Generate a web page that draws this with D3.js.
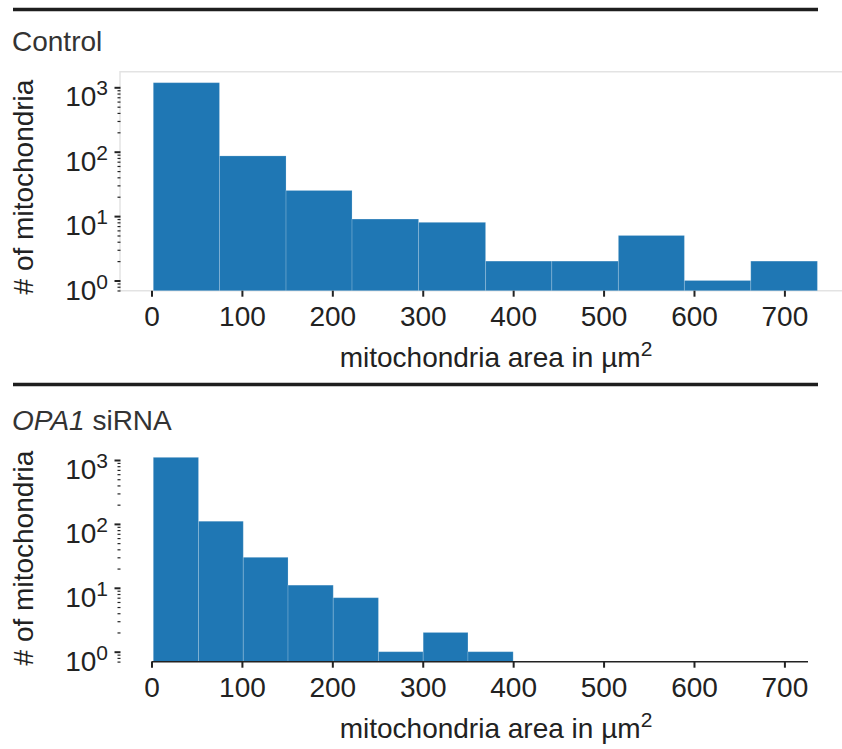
<!DOCTYPE html>
<html>
<head>
<meta charset="utf-8">
<script src="https://cdn.jsdelivr.net/npm/d3@7"></script>
<style>
  body { margin: 0; background: #fff; }
  svg { font-family: "Liberation Sans", Arial, sans-serif; }
  .domain { display: none; }
</style>
</head>
<body>
<div id="chart"></div>
<script>
// histogram bin edges (µm²) and counts
var ctrlEdges = [2, 75.2, 148.8, 221.8, 295.4, 369.5, 442.7, 516.4, 589.4, 662.8, 736.5];
var ctrlCounts = [1180, 86, 25, 9, 8, 2, 2, 5, 1, 2];

var opaEdges = [2, 52, 101.5, 151, 201, 251, 300.5, 350, 400];
var opaCounts = [1100, 110, 30, 11, 7, 1, 2, 1];

var xTicks = [0, 100, 200, 300, 400, 500, 600, 700];
var yMajor = [1, 10, 100, 1000];
var yExp = ["0", "1", "2", "3"];

var svgWidth = 842;
var svgHeight = 749;
var barColor = "#1f77b4";
var ink = "#222";
var fontSize = 28;

var svg = d3.select("#chart")
    .append("svg")
    .attr("width", svgWidth)
    .attr("height", svgHeight);

// shared x scale (same for both panels)
var xScale = d3.scaleLinear().domain([0, 700]).range([151.5, 784.4]);

// minor ticks for log axis
function minorTicks(lo, hi) {
  var out = [];
  for (var e = -1; e < 4; e++) {
    for (var k = 2; k <= 9; k++) {
      var v = k * Math.pow(10, e);
      if (v > lo && v < hi) out.push(v);
    }
  }
  return out;
}

function panel(opt) {
  var g = svg.append("g");

  // separator rule + title
  g.append("line")
    .attr("x1", 13).attr("x2", 818)
    .attr("y1", opt.ruleY).attr("y2", opt.ruleY)
    .attr("stroke", "#1e1e1e")
    .attr("stroke-width", 3.5);

  var title = g.append("text")
    .attr("x", 12)
    .attr("y", opt.titleY)
    .attr("font-size", fontSize)
    .attr("fill", "#333");
  opt.title.forEach(function(p) {
    title.append("tspan").attr("font-style", p.italic ? "italic" : "normal").text(p.t);
  });

  var yScale = d3.scaleLog().domain([1, 1000]).range([opt.y0, opt.y3]);
  var lo = yScale.invert(opt.bottom);
  var hi = yScale.invert(opt.top);

  // frame (control panel only)
  if (opt.frame) {
    g.append("path")
      .attr("d", "M842," + opt.top + "H120V" + opt.bottom + "H842")
      .attr("fill", "none")
      .attr("stroke", "#e3e3e3")
      .attr("stroke-width", 1.5);
  }

  // bars
  var bins = opt.counts.map(function(c, i) {
    return { x0: opt.edges[i], x1: opt.edges[i + 1], n: c };
  });
  g.selectAll("rect.bar")
    .data(bins)
    .enter()
    .append("rect")
    .attr("class", "bar")
    .attr("x", function(d) { return xScale(d.x0); })
    .attr("width", function(d) { return xScale(d.x1) - xScale(d.x0); })
    .attr("y", function(d) { return yScale(d.n); })
    .attr("height", function(d) { return opt.bottom - yScale(d.n); })
    .attr("fill", barColor)
    .attr("stroke", "rgba(255,255,255,0.18)")
    .attr("stroke-width", 1);

  // bottom axis line (siRNA panel)
  if (!opt.frame) {
    g.append("line")
      .attr("x1", xScale(0)).attr("x2", 808)
      .attr("y1", opt.bottom).attr("y2", opt.bottom)
      .attr("stroke", ink)
      .attr("stroke-width", 1.5);
  }

  // x axis
  var xAxis = d3.axisBottom(xScale).tickValues(xTicks).tickSize(6).tickPadding(9);
  var xg = g.append("g")
    .attr("transform", "translate(0," + opt.bottom + ")")
    .call(xAxis);
  xg.selectAll(".tick line").attr("stroke", ink).attr("stroke-width", 2);
  xg.selectAll(".tick text")
    .attr("fill", ink)
    .attr("font-size", fontSize)
    .attr("font-family", "Liberation Sans, Arial, sans-serif");

  g.append("text")
    .attr("x", 496)
    .attr("y", opt.bottom + 76)
    .attr("text-anchor", "middle")
    .attr("font-size", fontSize)
    .attr("fill", ink)
    .text("mitochondria area in µm")
    .append("tspan")
    .attr("dy", -11)
    .attr("font-size", 21)
    .text("2");

  // y axis: major + minor ticks
  var yAxisMajor = d3.axisLeft(yScale).tickValues(yMajor).tickSize(6).tickFormat("");
  var yAxisMinor = d3.axisLeft(yScale).tickValues(minorTicks(lo, hi)).tickSize(3).tickFormat("");
  var ymg = g.append("g").attr("transform", "translate(120.5,0)").call(yAxisMinor);
  ymg.selectAll(".tick line").attr("stroke", ink).attr("stroke-width", 1.2);
  var yMg = g.append("g").attr("transform", "translate(120.5,0)").call(yAxisMajor);
  yMg.selectAll(".tick line").attr("stroke", ink).attr("stroke-width", 2);

  yMajor.forEach(function(v, i) {
    var t = g.append("text")
      .attr("x", 108)
      .attr("y", yScale(v) + 19)
      .attr("text-anchor", "end")
      .attr("font-size", fontSize)
      .attr("fill", ink)
      .text("10");
    t.append("tspan")
      .attr("dy", -11)
      .attr("font-size", 21)
      .text(yExp[i]);
  });

  g.append("text")
    .attr("transform", "translate(33," + opt.labelY + ")rotate(-90)")
    .attr("text-anchor", "middle")
    .attr("font-size", fontSize)
    .attr("fill", ink)
    .text("# of mitochondria");
}

panel({
  ruleY: 9.5, titleY: 51,
  title: [{ t: "Control" }],
  y0: 280.5, y3: 87.3, top: 71.7, bottom: 290.7,
  frame: true, edges: ctrlEdges, counts: ctrlCounts, labelY: 187
});

panel({
  ruleY: 384.5, titleY: 430,
  title: [{ t: "OPA1", italic: true }, { t: " siRNA" }],
  y0: 651.7, y3: 460, top: 442, bottom: 661.7,
  frame: false, edges: opaEdges, counts: opaCounts, labelY: 558
});
</script>
</body>
</html>
